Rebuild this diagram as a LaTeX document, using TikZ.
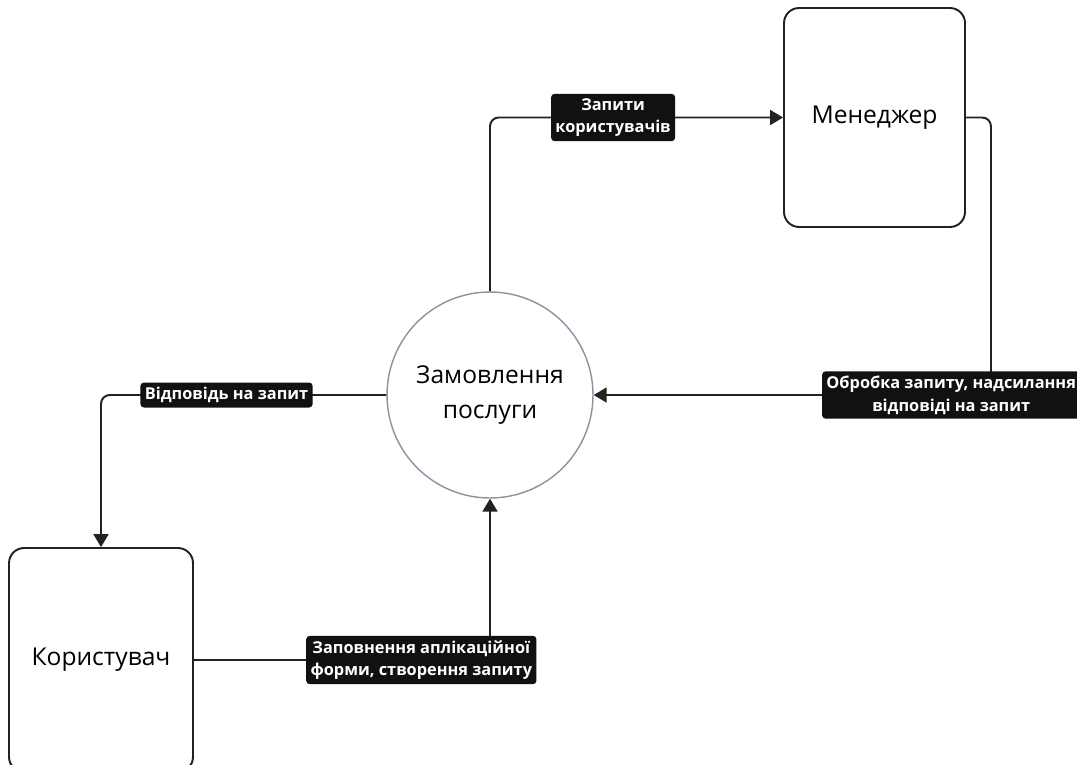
\documentclass[tikz,border=0pt]{standalone}
\usepackage{fontspec}
\setmainfont{Open Sans}
\usetikzlibrary{arrows.meta,positioning}
\definecolor{linedark}{HTML}{222222}
\definecolor{circlegrey}{HTML}{8A93A1}
\definecolor{tagblack}{HTML}{111111}

\tikzset{
  actor/.style={draw=linedark,line width=1.1pt,rounded corners=0.3cm,
    minimum width=3.62cm,font=\fontsize{14}{20}\selectfont},
  process/.style={circle,draw=circlegrey,line width=0.8pt,minimum size=4.12cm,
    align=center,font=\fontsize{14}{20}\selectfont},
  tag/.style={fill=tagblack,text=white,rounded corners=2pt,align=center,
    inner xsep=2.5pt,inner ysep=2.5pt,minimum height=0.5cm,
    font=\fontsize{9.3}{13}\selectfont\bfseries},
  flow/.style={draw=linedark,line width=1.1pt,rounded corners=5pt,
    -{Triangle[length=0.26cm,width=0.3cm]}}
}

\begin{document}
\begin{tikzpicture}[x=0.02cm,y=-0.02cm]
  % Page frame
  \useasboundingbox (0,0) rectangle (1077,764);
  % Actors and process
  \node[actor,minimum height=4.38cm] (manager) at (874.5,117.5) {Менеджер};
  \node[actor,minimum height=4.48cm,minimum width=3.68cm] (user) at (101,660) {Користувач};
  \node[process] (order) at (490,395) {Замовлення\\послуги};
  % Data flows
  \draw[flow] (order.north) |- node[tag,pos=0.71] {Запити\\користувачів} (manager.west);
  \draw[flow] (manager.east) -- ++(25,0) |- node[tag,pos=0.55] {Обробка запиту, надсилання\\відповіді на запит} (order.east);
  \draw[flow] (order.west) -| node[tag,pos=0.28] {Відповідь на запит} (user.north);
  \draw[flow] (user.east) -| node[tag,pos=0.384] {Заповнення аплікаційної\\форми, створення запиту} (order.south);
\end{tikzpicture}
\end{document}
